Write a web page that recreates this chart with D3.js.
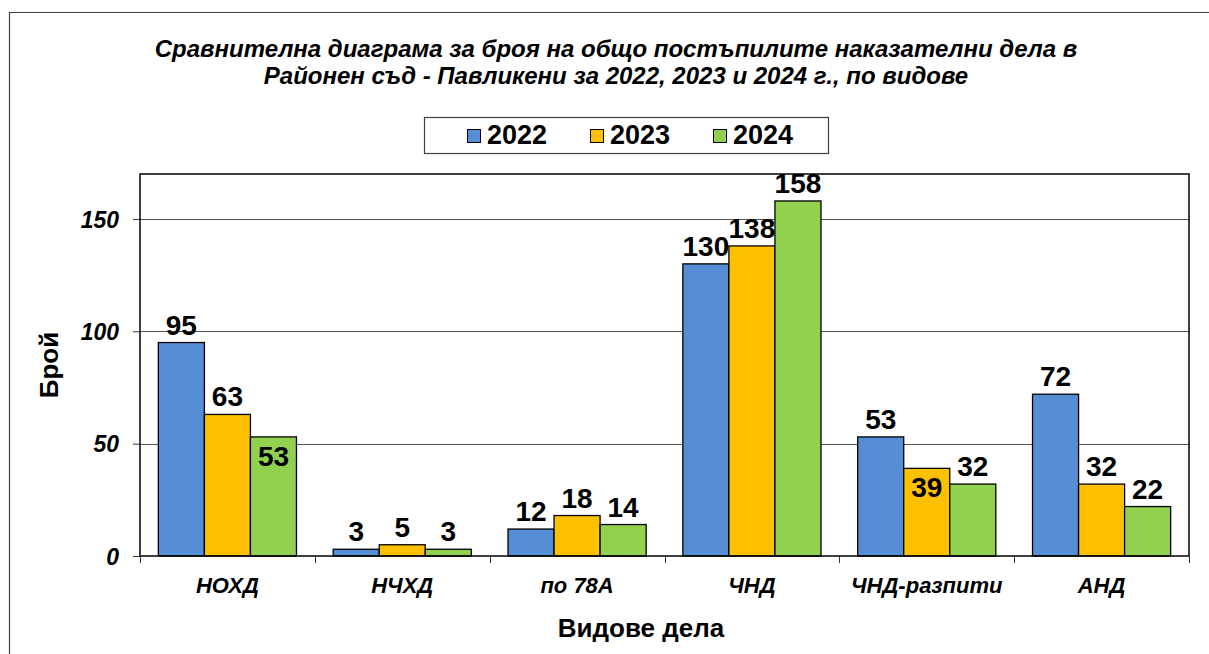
<!DOCTYPE html>
<html>
  <head>
    <meta charset="utf-8">
    <title>Наказателни дела</title>
    <script src="https://d3js.org/d3.v7.min.js"></script>
    <style>
      body { margin: 0; background: #fff; }
      svg { display: block; font-family: "Liberation Sans", Arial, sans-serif; }
      .bold { font-weight: bold; }
      .it { font-style: italic; }
    </style>
  </head>
  <body>
    <svg id="chart" width="1209" height="654"></svg>
    <script>
      // data
      var categories = ["НОХД", "НЧХД", "по 78А", "ЧНД", "ЧНД-разпити", "АНД"];
      var years = ["2022", "2023", "2024"];
      var values2022 = [95, 3, 12, 130, 53, 72];
      var values2023 = [63, 5, 18, 138, 39, 32];
      var values2024 = [53, 3, 14, 158, 32, 22];
      var yTicks = [0, 50, 100, 150];
      var titleLines = [
        "Сравнителна диаграма за броя на общо постъпилите наказателни дела в",
        "Районен съд - Павликени за 2022, 2023 и 2024 г., по видове"
      ];
      // labels that Excel pushed inside the bar
      var insideLabels = ["НОХД|2024", "ЧНД-разпити|2023"];

      var series = [values2022, values2023, values2024];
      var colours = d3.scaleOrdinal().domain(years).range(["#558ED5", "#FFC000", "#92D050"]);

      var rows = [];
      categories.forEach(function(c, i) {
        years.forEach(function(y, j) {
          rows.push({ cat: c, year: y, value: series[j][i] });
        });
      });

      var svg = d3.select("#chart");
      var margin = { top: 174, right: 20, bottom: 98, left: 140 };
      var plotW = 1189 - margin.left, plotH = 556 - margin.top;

      // outer chart frame
      svg.append("path")
        .attr("d", "M9.5,654 V12.5 H1209")
        .attr("fill", "none")
        .attr("stroke", "#404040")
        .attr("stroke-width", 1.2);

      // title
      svg.append("g").selectAll("text")
        .data(titleLines)
        .enter().append("text")
          .attr("class", "bold it")
          .attr("x", 616)
          .attr("y", function(d, i) { return 57 + i * 27; })
          .attr("text-anchor", "middle")
          .style("font-size", "24px")
          .text(function(d) { return d; });

      // legend
      var legend = svg.append("g");
      legend.append("rect")
        .attr("x", 424.5).attr("y", 117.5)
        .attr("width", 404).attr("height", 36)
        .attr("fill", "#fff").attr("stroke", "#404040").attr("stroke-width", 1.2);
      var item = legend.selectAll(".item")
        .data(years)
        .enter().append("g")
          .attr("class", "item")
          .attr("transform", function(d, i) { return "translate(" + (467 + i * 123) + ",0)"; });
      item.append("rect")
        .attr("x", 0.5).attr("y", 129.5).attr("width", 13).attr("height", 13)
        .attr("fill", function(d) { return colours(d); })
        .attr("stroke", "#000").attr("stroke-width", 1);
      item.append("text")
        .attr("class", "bold")
        .attr("x", 20).attr("y", 144)
        .style("font-size", "27px")
        .text(function(d) { return d; });

      var g = svg.append("g").attr("transform", "translate(" + margin.left + "," + margin.top + ")");

      var x0 = d3.scaleBand().domain(categories).range([0, plotW]).padding(0);
      var pad = x0.bandwidth() * 0.105;
      var x1 = d3.scaleBand().domain(years).range([pad, x0.bandwidth() - pad]).padding(0);
      var y = d3.scaleLinear().domain([0, 170]).range([plotH, 0]);

      // gridlines
      g.append("g").selectAll("line")
        .data(yTicks.filter(function(d) { return d > 0; }))
        .enter().append("line")
          .attr("x1", 0).attr("x2", plotW)
          .attr("y1", function(d) { return Math.round(y(d)) + 0.5; })
          .attr("y2", function(d) { return Math.round(y(d)) + 0.5; })
          .attr("stroke", "#555").attr("stroke-width", 1);

      // y axis
      var yAxis = d3.axisLeft(y).tickValues(yTicks).tickSizeInner(7).tickSizeOuter(0).tickPadding(14);
      var yAxisG = g.append("g").call(yAxis);
      yAxisG.select(".domain").remove();
      yAxisG.selectAll("line").attr("stroke", "#333");
      yAxisG.selectAll("text")
        .attr("class", "bold it")
        .attr("dy", "0.36em")
        .style("font-size", "23px")
        .attr("fill", "#000");

      // x axis: ticks at category boundaries
      var xAxisG = g.append("g").attr("transform", "translate(0," + plotH + ")");
      xAxisG.selectAll("line")
        .data(d3.range(categories.length + 1))
        .enter().append("line")
          .attr("x1", function(i) { return Math.round(i * x0.bandwidth()) + 0.5; })
          .attr("x2", function(i) { return Math.round(i * x0.bandwidth()) + 0.5; })
          .attr("y1", 0).attr("y2", 7)
          .attr("stroke", "#333");
      xAxisG.selectAll("text")
        .data(categories)
        .enter().append("text")
          .attr("class", "bold it")
          .attr("x", function(d) { return x0(d) + x0.bandwidth() / 2; })
          .attr("y", 37)
          .attr("text-anchor", "middle")
          .style("font-size", "22px")
          .text(function(d) { return d; });

      // bars
      g.append("g").selectAll("rect")
        .data(rows)
        .enter().append("rect")
          .attr("x", function(d) { return x0(d.cat) + x1(d.year); })
          .attr("y", function(d) { return y(d.value); })
          .attr("width", x1.bandwidth())
          .attr("height", function(d) { return plotH - y(d.value); })
          .attr("fill", function(d) { return colours(d.year); })
          .attr("stroke", "#000")
          .attr("stroke-width", 1.3);

      // plot border
      g.append("rect")
        .attr("x", 0).attr("y", 0).attr("width", plotW).attr("height", plotH)
        .attr("fill", "none").attr("stroke", "#000").attr("stroke-width", 1.5);

      // value labels
      g.append("g").selectAll("text")
        .data(rows)
        .enter().append("text")
          .attr("class", "bold")
          .attr("x", function(d) { return x0(d.cat) + x1(d.year) + x1.bandwidth() / 2; })
          .attr("y", function(d) {
            var inside = insideLabels.indexOf(d.cat + "|" + d.year) >= 0;
            return y(d.value) + (inside ? 29 : -8);
          })
          .attr("text-anchor", "middle")
          .style("font-size", "28px")
          .text(function(d) { return d.value; });

      // axis titles
      svg.append("text")
        .attr("class", "bold")
        .attr("transform", "translate(58,365) rotate(-90)")
        .attr("text-anchor", "middle")
        .style("font-size", "26px")
        .text("Брой");
      svg.append("text")
        .attr("class", "bold")
        .attr("x", 641).attr("y", 637)
        .attr("text-anchor", "middle")
        .style("font-size", "26px")
        .text("Видове дела");
    </script>
  </body>
</html>
